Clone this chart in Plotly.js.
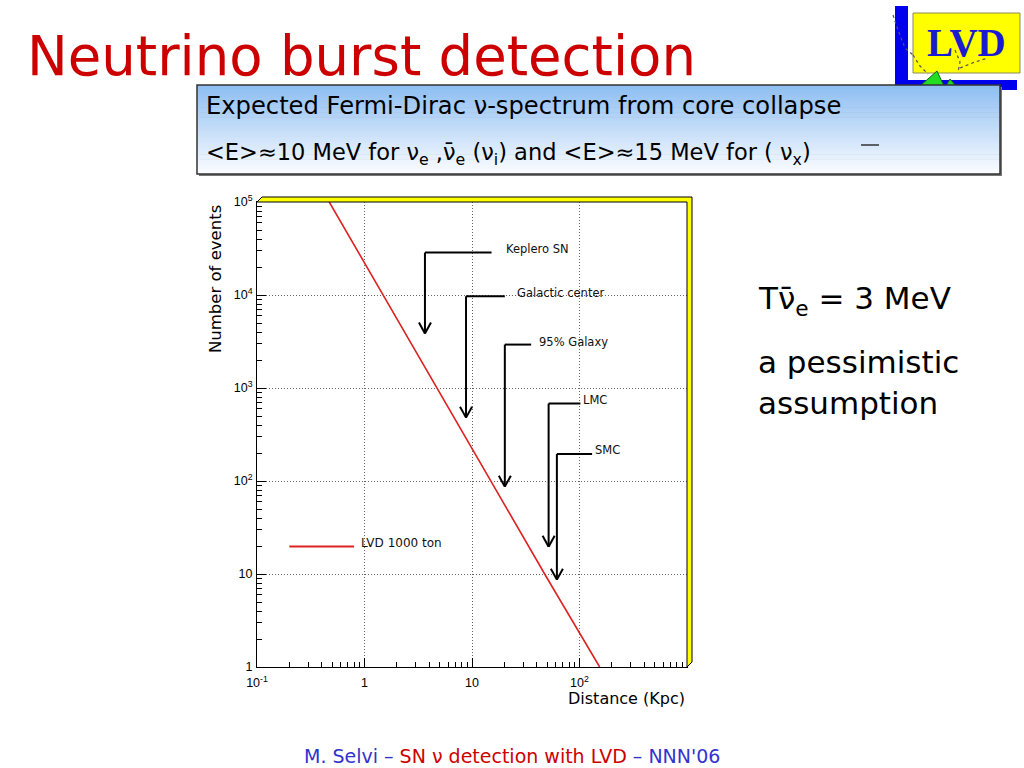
<!DOCTYPE html>
<html><head><meta charset="utf-8">
<script src="https://cdn.plot.ly/plotly-3.0.1.min.js"></script>
<style>html,body{margin:0;padding:0;background:#fff;}#chart{width:1024px;height:768px;}</style>
</head><body><div id="chart"></div>
<script>
// ---- data ----
const distanceKpc = [0.47, 1, 2, 5, 10, 20, 50, 100, 154];
const numberOfEvents = [100000, 22000, 5500, 890, 220, 56, 9, 2.3, 1];
const seriesName = 'LVD 1000 ton';
const sourceNames = ['Keplero SN', 'Galactic center', '95% Galaxy', 'LMC', 'SMC'];
const sourceDistKpc = [3.65, 8.8, 20.2, 51.6, 61.6];
const xTickVals = [0.1, 1, 10, 100];
const xTickText = ['10<sup>-1</sup>', '1', '10', '10<sup>2</sup>'];
const yTickVals = [1, 10, 100, 1000, 10000, 100000];
const yTickText = ['1', '10', '10<sup>2</sup>', '10<sup>3</sup>', '10<sup>4</sup>', '10<sup>5</sup>'];

// ---- annotation-arrow geometry (layout only) ----
const arrowTopY = [28600, 9700, 2930, 680, 195];
const arrowEndX = [15.2, 20.2, 35.5, 102, 131];
const arrowTipY = [3860, 480, 87, 19.6, 8.7];
const labelLogX = [1.30, 1.404, 1.607, 2.018, 2.128];
const labelLogY = [4.493, 4.018, 3.496, 2.873, 2.33];

// pixel -> paper helpers (plot area 257..687 x 202..667)
const L = 257, R = 687, T = 202, B = 667;
const PX = x => (x - L) / (R - L);
const PY = y => (B - y) / (B - T);

const shapes = [];
const annotations = [];

// minor ticks
const minorVals = [];
for (let d = -1; d < 5; d++) for (let k = 2; k <= 9; k++) minorVals.push(k * Math.pow(10, d));

// ---- LVD logo ----
function rectPx(x0, y0, x1, y1, fill, line, lw) {
  shapes.push({type: 'rect', xref: 'paper', yref: 'paper', x0: PX(x0), x1: PX(x1), y0: PY(y1), y1: PY(y0),
    fillcolor: fill, line: {color: line || fill, width: lw === undefined ? 0 : lw}});
}
function pathPx(pts, fill, line, lw, dash) {
  let p = pts.map((q, i) => (i ? 'L' : 'M') + PX(q[0]).toFixed(5) + ',' + PY(q[1]).toFixed(5)).join(' ');
  if (fill) p += ' Z';
  shapes.push({type: 'path', xref: 'paper', yref: 'paper', path: p, fillcolor: fill || 'rgba(0,0,0,0)',
    line: {color: line, width: lw, dash: dash || 'solid'}});
}
rectPx(895, 6, 908, 90, '#0000ee');
rectPx(895, 80, 1017, 90, '#0000ee');
rectPx(913, 13, 1020, 73, '#ffff00', '#8a8a60', 1);
pathPx([[893, 15], [898, 30], [905, 48], [913, 55]], null, '#555', 1.2, 'dot');
pathPx([[913, 55], [920, 66], [928, 74]], null, '#555', 1.2, 'dot');
pathPx([[955, 50], [960, 62], [958, 72]], null, '#555', 1.2, 'dot');
pathPx([[960, 68], [975, 62], [988, 58]], null, '#555', 1.2, 'dot');
pathPx([[920, 86], [937, 71], [944, 86]], '#22dd22', '#116611', 1);
pathPx([[946, 86], [950, 79], [956, 86]], '#22dd22', '#116611', 1);
annotations.push({xref: 'paper', yref: 'paper', x: PX(966), y: PY(43), xanchor: 'center', yanchor: 'middle',
  text: '<b>LVD</b>', showarrow: false, font: {family: 'Liberation Serif', size: 39, color: '#1a1ad0'}});

// ---- header box with gradient ----
const hx0 = 197, hx1 = 1000, hy0 = 85, hy1 = 174;
rectPx(hx0 + 2, hy0 + 2, hx1 + 2, hy1 + 2, '#777');
const nb = 36;
for (let i = 0; i < nb; i++) {
  const t = i / (nb - 1);
  const r = Math.round(142 + (250 - 142) * t), g = Math.round(190 + (252 - 190) * t), b = Math.round(242 + (255 - 242) * t);
  const ya = hy0 + (hy1 - hy0) * i / nb, yb = hy0 + (hy1 - hy0) * (i + 1) / nb + 0.6;
  rectPx(hx0, ya, hx1, Math.min(yb, hy1), `rgb(${r},${g},${b})`);
}
rectPx(hx0, hy0, hx1, hy1, 'rgba(0,0,0,0)', '#333', 1.5);
shapes.push({type: 'line', xref: 'paper', yref: 'paper', x0: PX(861), x1: PX(879), y0: PY(145), y1: PY(145), line: {color: '#333', width: 1.5}});

annotations.push({xref: 'paper', yref: 'paper', x: PX(204), y: PY(106), xanchor: 'left', yanchor: 'middle', showarrow: false,
  text: 'Expected Fermi-Dirac ν-spectrum from core collapse', font: {family: 'DejaVu Sans', size: 24.2, color: '#000'}});
annotations.push({xref: 'paper', yref: 'paper', x: PX(204), y: PY(154), xanchor: 'left', yanchor: 'middle', showarrow: false,
  text: '&lt;E&gt;≈10 MeV for ν<sub>e</sub> ,ν\u0304<sub>e</sub> (ν<sub>i</sub>) and &lt;E&gt;≈15 MeV for ( ν<sub>x</sub>)',
  font: {family: 'DejaVu Sans', size: 22.5, color: '#000'}});

// ---- slide title, side text, footer ----
annotations.push({xref: 'paper', yref: 'paper', x: PX(25), y: PY(56), xanchor: 'left', yanchor: 'middle', showarrow: false,
  text: 'Neutrino burst detection', font: {family: 'DejaVu Sans', size: 54.5, color: '#cc0000'}});
annotations.push({xref: 'paper', yref: 'paper', x: PX(756), y: PY(300), xanchor: 'left', yanchor: 'middle', showarrow: false,
  text: 'Tν\u0304<sub>e</sub> = 3 MeV', font: {family: 'DejaVu Sans', size: 31, color: '#000'}});
annotations.push({xref: 'paper', yref: 'paper', x: PX(756), y: PY(362), xanchor: 'left', yanchor: 'middle', showarrow: false,
  text: 'a pessimistic', font: {family: 'DejaVu Sans', size: 31, color: '#000'}});
annotations.push({xref: 'paper', yref: 'paper', x: PX(756), y: PY(403), xanchor: 'left', yanchor: 'middle', showarrow: false,
  text: 'assumption', font: {family: 'DejaVu Sans', size: 31, color: '#000'}});
annotations.push({xref: 'paper', yref: 'paper', x: PX(512), y: PY(756), xanchor: 'center', yanchor: 'middle', showarrow: false,
  text: '<span style="color:#3333cc">M. Selvi – </span><span style="color:#cc0000">SN ν detection with LVD</span><span style="color:#3333cc"> – NNN\'06</span>',
  font: {family: 'DejaVu Sans', size: 19, color: '#3333cc'}});

// ---- plot frame (yellow bevel) ----
const dx = 5 / (R - L), dy = 5 / (B - T);
shapes.push({type: 'path', xref: 'paper', yref: 'paper',
  path: `M0,1 L${dx},${1 + dy} L${1 + dx},${1 + dy} L${1 + dx},${dy} L1,0 L1,1 Z`,
  fillcolor: '#ffff00', line: {color: '#000', width: 1}});

// axis titles
annotations.push({xref: 'paper', yref: 'paper', x: PX(215), y: PY(279), xanchor: 'center', yanchor: 'middle', textangle: -90, showarrow: false,
  text: 'Number of events', font: {family: 'DejaVu Sans', size: 16.5, color: '#000'}});
annotations.push({xref: 'paper', yref: 'paper', x: PX(687), y: PY(698), xanchor: 'right', yanchor: 'middle', showarrow: false,
  text: 'Distance (Kpc)', font: {family: 'DejaVu Sans', size: 16, color: '#000'}});

// ---- source arrows ----
const hw = 0.056, hh = 0.118;
sourceNames.forEach((name, i) => {
  const d = sourceDistKpc[i];
  const ln = (x0, y0, x1, y1) => shapes.push({type: 'line', xref: 'x', yref: 'y', x0, y0, x1, y1, line: {color: '#000', width: 2}});
  ln(d, arrowTopY[i], arrowEndX[i], arrowTopY[i]);
  ln(d, arrowTopY[i], d, arrowTipY[i]);
  ln(d * Math.pow(10, -hw), arrowTipY[i] * Math.pow(10, hh), d, arrowTipY[i]);
  ln(d * Math.pow(10, hw), arrowTipY[i] * Math.pow(10, hh), d, arrowTipY[i]);
  annotations.push({xref: 'x', yref: 'y', x: labelLogX[i], y: labelLogY[i], xanchor: 'left', yanchor: 'middle', showarrow: false,
    text: name, font: {family: 'DejaVu Sans', size: 11.5, color: '#111'}});
});

// legend
shapes.push({type: 'line', xref: 'x', yref: 'y', x0: 0.2, x1: 0.8, y0: 19.8, y1: 19.8, line: {color: '#dd2222', width: 2}});
annotations.push({xref: 'x', yref: 'y', x: -0.05, y: 1.333, xanchor: 'left', yanchor: 'middle', showarrow: false,
  text: seriesName, font: {family: 'DejaVu Sans', size: 12, color: '#111'}});

const trace = {x: distanceKpc, y: numberOfEvents, type: 'scatter', mode: 'lines', name: seriesName,
  line: {color: '#dd2222', width: 1.6}, showlegend: false, hoverinfo: 'skip'};

const axisCommon = {
  type: 'log', showline: true, linecolor: '#000', linewidth: 1, mirror: true, zeroline: false,
  ticks: 'inside', ticklen: 9, tickwidth: 1, tickcolor: '#000',
  showgrid: true, gridcolor: '#666', griddash: '1px,2px', gridwidth: 1,
  tickfont: {family: 'Liberation Sans', size: 12.5, color: '#000'},
  minor: {tickvals: minorVals, ticks: 'inside', ticklen: 5, tickcolor: '#000', tickwidth: 1, showgrid: false},
  tickmode: 'array', fixedrange: true
};

const layout = {
  width: 1024, height: 768, autosize: false,
  margin: {l: L, r: 1024 - R, t: T, b: 768 - B, pad: 0},
  paper_bgcolor: '#fff', plot_bgcolor: '#fff', showlegend: false,
  xaxis: Object.assign({}, axisCommon, {range: [-1, 3], tickvals: xTickVals, ticktext: xTickText, ticklabelstandoff: 4}),
  yaxis: Object.assign({}, axisCommon, {range: [0, 5], tickvals: yTickVals, ticktext: yTickText, ticklabelstandoff: 1}),
  shapes, annotations
};

Plotly.newPlot('chart', [trace], layout, {displayModeBar: false, staticPlot: true});
</script></body></html>
